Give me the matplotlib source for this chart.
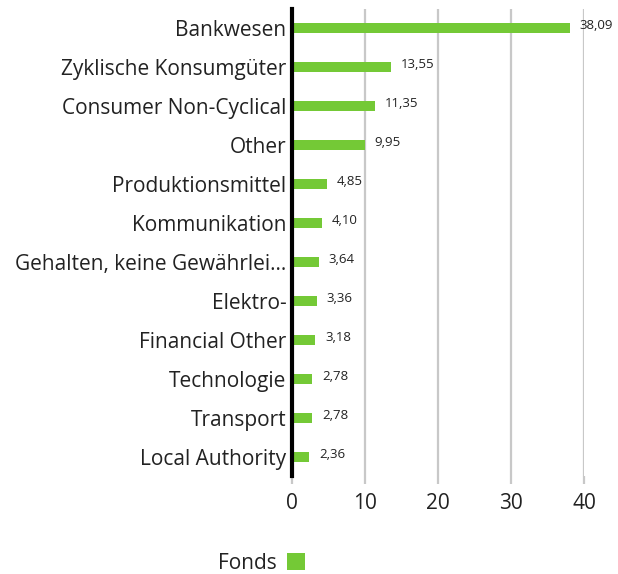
import matplotlib.pyplot as plt
import matplotlib.transforms as mtransforms

plt.rcParams['font.family'] = ['Open Sans', 'DejaVu Sans']

# Sector weights (%)
sectors = ['Bankwesen', 'Zyklische Konsumgüter', 'Consumer Non-Cyclical', 'Other',
           'Produktionsmittel', 'Kommunikation', 'Gehalten, keine Gewährlei...',
           'Elektro-', 'Financial Other', 'Technologie', 'Transport', 'Local Authority']
weights = [38.09, 13.55, 11.35, 9.95, 4.85, 4.10, 3.64, 3.36, 3.18, 2.78, 2.78, 2.36]
value_labels = ['38,09', '13,55', '11,35', '9,95', '4,85', '4,10', '3,64',
                '3,36', '3,18', '2,78', '2,78', '2,36']
x_ticks = [0, 10, 20, 30, 40]

green = '#74c936'

fig = plt.figure(figsize=(6.18, 5.74), dpi=100)
ax = fig.add_axes([0.4725, 0.17, 0.4725, 0.815])

pos = list(range(len(sectors)))
ax.barh(pos, weights, height=0.26, color=green, zorder=3, label='Fonds')
for p, w, lab in zip(pos, weights, value_labels):
    ax.annotate(lab, (w, p), xytext=(7, 2), textcoords='offset points',
                ha='left', va='center', fontsize=9.5, color='#222222',
                annotation_clip=False)

ax.set_ylim(len(sectors) - 0.5, -0.5)
ax.set_xlim(0, 40)
ax.set_yticks(pos)
ax.set_yticklabels(sectors, fontsize=15, color='#222222')
ax.set_xticks(x_ticks)
ax.set_xticklabels([str(t) for t in x_ticks], fontsize=15, color='#222222')

# category labels sit a little below the bar centre
shift = mtransforms.ScaledTranslation(0, -4 / 72, fig.dpi_scale_trans)
for t in ax.get_yticklabels():
    t.set_transform(t.get_transform() + shift)

ax.grid(axis='x', color='#c8c8c8', linewidth=1.6, zorder=0)
for s in ['top', 'right', 'bottom']:
    ax.spines[s].set_visible(False)
ax.spines['left'].set_linewidth(3)
ax.spines['left'].set_color('black')
ax.spines['left'].set_zorder(4)
ax.tick_params(axis='y', length=0, pad=4)
ax.tick_params(axis='x', length=6, width=1.6, color='#c8c8c8', pad=6)

fig.legend(loc='lower left', bbox_to_anchor=(0.352, 0.0), frameon=False,
           borderpad=0, borderaxespad=0, fontsize=15, markerfirst=False,
           handlelength=0.9, handleheight=0.9, handletextpad=0.5,
           labelcolor='#222222')

fig.savefig('out.png', dpi=100)
